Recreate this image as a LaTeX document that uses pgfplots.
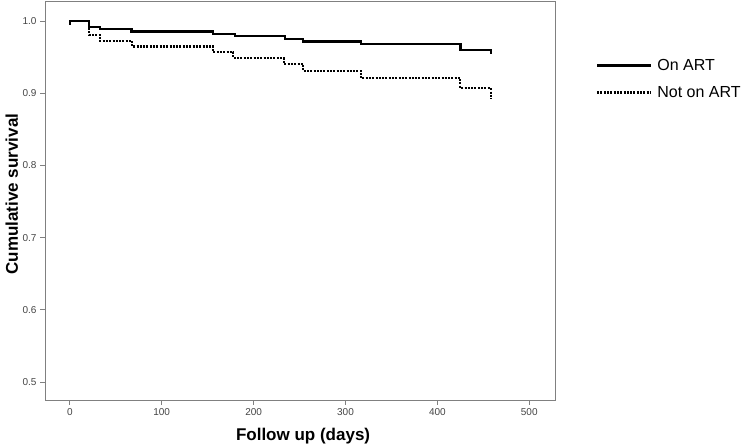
\documentclass[border=0pt]{standalone}
\usepackage{fontspec}
\setmainfont{Liberation Sans}
\usepackage{pgfplots}
\pgfplotsset{compat=1.18}
\definecolor{framegray}{HTML}{808080}
\definecolor{ticktext}{HTML}{444444}

\begin{document}
\begin{tikzpicture}
  \useasboundingbox (0,0) rectangle (746pt,446pt);
  \begin{axis}[
    at={(45pt,46pt)}, anchor=south west,
    scale only axis, width=510pt, height=399pt,
    xmin=-27, xmax=528, ymin=0.475, ymax=1.028,
    xtick={0,100,200,300,400,500},
    ytick={0.5,0.6,0.7,0.8,0.9,1.0},
    tick pos=left, tick align=outside,
    major tick length=5pt,
    axis line style={draw=framegray, line width=0.9pt},
    tick style={draw=framegray, line width=0.9pt},
    ticklabel style={font=\fontsize{10}{10}\selectfont, color=ticktext},
    /pgf/number format/assume math mode=true,
    yticklabel style={/pgf/number format/.cd, fixed, fixed zerofill, precision=1},
    xticklabel style={/pgf/number format/fixed},
    xlabel={\textbf{Follow up (days)}},
    ylabel={\textbf{Cumulative survival}},
    xlabel style={font=\fontsize{17}{17}\selectfont,
      at={(axis description cs:0.506,-0.09)}, anchor=center},
    ylabel style={font=\fontsize{17}{17}\selectfont,
      at={(axis description cs:-0.065,0.516)}, anchor=center, rotate=0},
    legend style={draw=none, fill=none,
      at={(axis description cs:1.080,0.86)}, anchor=north west,
      font=\fontsize{16}{16}\selectfont, inner sep=0pt,
      row sep=10pt, column sep=0pt,
      nodes={inner sep=1pt, text height=12pt, text depth=3pt}},
    legend cell align=left,
    legend image code/.code={\draw[#1] (0pt,0pt) -- (54pt,0pt);
      \path (58pt,0pt);},
    clip=false,
  ]
    \addplot[const plot, black, line width=2.3pt]
      coordinates {
        (0,0.995) (0,1.0) (21,0.9915) (33,0.9889) (67,0.9857)
        (156,0.9825) (180,0.979) (234,0.9755) (254,0.9718)
        (317,0.968) (425,0.960) (458,0.960) (458,0.9546)
      };
    \addlegendentry{On ART}
    \addplot[const plot, black, line width=2.1pt, dash pattern=on 2pt off 1.3pt]
      coordinates {
        (0,0.995) (0,1.0) (21,0.981) (33,0.9727) (68,0.9649)
        (156,0.957) (178,0.9488) (233,0.941) (254,0.9312)
        (317,0.921) (425,0.9072) (458,0.9072) (458,0.892)
      };
    \addlegendentry{Not on ART}
  \end{axis}
\end{tikzpicture}
\end{document}
